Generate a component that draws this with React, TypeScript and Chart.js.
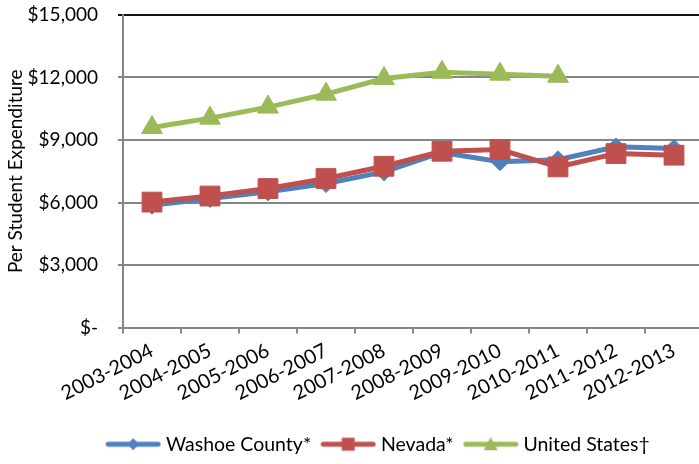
import React, { useEffect, useRef } from 'react';
import { Chart, registerables } from 'chart.js';

Chart.register(...registerables);

const categories = [
  '2003-2004', '2004-2005', '2005-2006', '2006-2007', '2007-2008',
  '2008-2009', '2009-2010', '2010-2011', '2011-2012', '2012-2013',
];
const washoeCounty = [5870, 6190, 6510, 6910, 7470, 8400, 7960, 8050, 8670, 8590];
const nevada = [6020, 6310, 6670, 7150, 7740, 8460, 8540, 7710, 8350, 8270];
const unitedStates: (number | null)[] = [9600, 10050, 10580, 11200, 11950, 12250, 12160, 12060, null, null];
const seriesNames = ['Washoe County*', 'Nevada*', 'United States†'];
const seriesColors = ['#4F81BD', '#C0504D', '#9BBB59'];
const yMin = 0;
const yMax = 15000;
const yStep = 3000;
const yTitle = 'Per Student Expenditure';

const FONT = 'Lato, "Open Sans", sans-serif';

function swatch(color: string, shape: 'diamond' | 'square' | 'triangle') {
  const c = document.createElement('canvas');
  c.width = 56;
  c.height = 20;
  const g = c.getContext('2d')!;
  g.strokeStyle = color;
  g.lineWidth = 5;
  g.lineCap = 'round';
  g.beginPath();
  g.moveTo(3, 10);
  g.lineTo(53, 10);
  g.stroke();
  g.fillStyle = color;
  g.beginPath();
  if (shape === 'diamond') {
    g.moveTo(28, 4); g.lineTo(34, 10); g.lineTo(28, 16); g.lineTo(22, 10);
  } else if (shape === 'square') {
    g.rect(21.5, 3.5, 13, 13);
  } else {
    g.moveTo(28, 3); g.lineTo(35, 16); g.lineTo(21, 16);
  }
  g.closePath();
  g.fill();
  return c;
}

export default function App() {
  const ref = useRef<HTMLCanvasElement | null>(null);

  useEffect(() => {
    document.documentElement.style.overflow = 'hidden';
    document.body.style.margin = '0';
    document.body.style.overflow = 'hidden';
    const canvas = ref.current!;
    const swatches = [
      swatch(seriesColors[0], 'diamond'),
      swatch(seriesColors[1], 'square'),
      swatch(seriesColors[2], 'triangle'),
    ];
    Chart.defaults.font.family = FONT;
    const chart = new Chart(canvas, {
      type: 'line',
      data: {
        labels: categories,
        datasets: [
          {
            label: seriesNames[0], data: washoeCounty, order: 2,
            borderColor: seriesColors[0], backgroundColor: seriesColors[0],
            borderWidth: 5, pointStyle: 'rectRot', pointRadius: 9,
            pointBorderWidth: 1, pointBorderColor: seriesColors[0], pointBackgroundColor: seriesColors[0],
          },
          {
            label: seriesNames[1], data: nevada, order: 1,
            borderColor: seriesColors[1], backgroundColor: seriesColors[1],
            borderWidth: 5, pointStyle: 'rect', pointRadius: 14,
            pointBorderWidth: 1, pointBorderColor: seriesColors[1], pointBackgroundColor: seriesColors[1],
          },
          {
            label: seriesNames[2], data: unitedStates, order: 0,
            borderColor: seriesColors[2], backgroundColor: seriesColors[2],
            borderWidth: 5, pointStyle: 'triangle', pointRadius: 12,
            pointBorderWidth: 1, pointBorderColor: seriesColors[2], pointBackgroundColor: seriesColors[2],
          },
        ],
      },
      options: {
        animation: false,
        responsive: false,
        layout: { padding: { top: 15, left: 0, right: 0, bottom: 0 } },
        plugins: {
          tooltip: { enabled: false },
          legend: {
            position: 'bottom',
            labels: {
              usePointStyle: true,
              pointStyleWidth: 46,
              boxHeight: 19,
              padding: 14,
              color: '#000',
              font: { size: 19.5, family: FONT },
              sort: (a: any, b: any) => a.datasetIndex - b.datasetIndex,
              generateLabels: (ch: any) => {
                const base = Chart.defaults.plugins.legend.labels.generateLabels(ch);
                return base.map((it: any) => ({ ...it, pointStyle: swatches[it.datasetIndex], fontColor: '#000' }));
              },
            },
          },
        },
        scales: {
          x: {
            type: 'category',
            offset: true,
            grid: { display: true, drawOnChartArea: false, drawTicks: true, tickLength: 6, color: '#868686', lineWidth: 2, offset: true },
            border: { display: true, color: '#868686', width: 2 },
            ticks: { maxRotation: 27, minRotation: 27, autoSkip: false, color: '#000', font: { size: 20, family: FONT }, padding: 5 },
            afterFit: (s: any) => { s.height = 93; },
          },
          y: {
            min: yMin,
            max: yMax,
            ticks: {
              stepSize: yStep,
              color: '#000',
              font: { size: 19, family: FONT },
              padding: 20,
              callback: (v: any) => (Number(v) === 0 ? '$-' : '$' + Number(v).toLocaleString('en-US')),
            },
            grid: {
              color: (ctx: any) => (ctx.tick && ctx.tick.value === yMax ? '#111' : '#868686'),
              lineWidth: 2,
              tickLength: 5,
              drawTicks: true,
            },
            border: { color: '#868686', width: 2 },
            title: { display: true, text: yTitle, color: '#000', font: { size: 19, family: FONT }, padding: { top: 4, bottom: 0 } },
            afterFit: (s: any) => { s.width = 123; s.paddingTop = 11; s.paddingBottom = 11; },
          },
          spacer: {
            type: 'linear',
            axis: 'y',
            position: 'right',
            display: true,
            grid: { display: false },
            ticks: { display: false },
            border: { display: false },
            afterFit: (s: any) => { s.width = 57; s.paddingTop = 0; s.paddingBottom = 0; },
          },
        },
      } as any,
    });
    return () => chart.destroy();
  }, []);

  return (
    <div style={{ position: 'absolute', left: 0, top: 0, width: 760, height: 464 }}>
      <canvas ref={ref} width={760} height={464} style={{ width: 760, height: 464 }} />
    </div>
  );
}
